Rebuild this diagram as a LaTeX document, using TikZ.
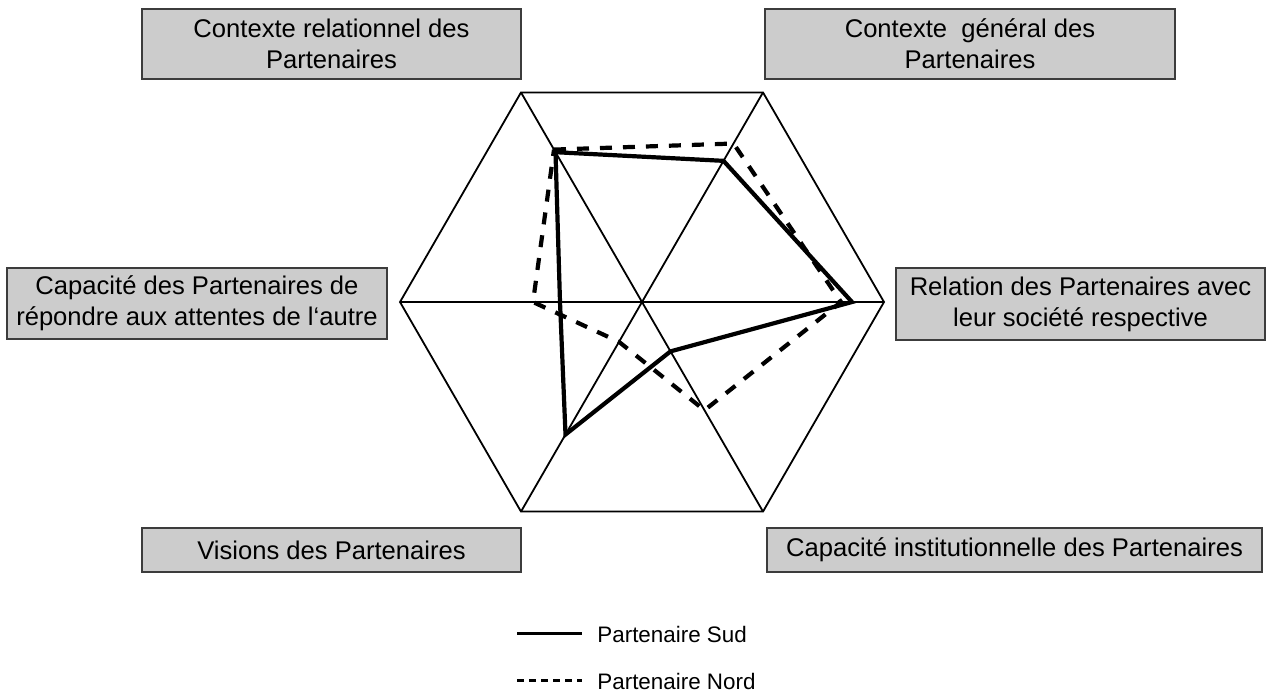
\documentclass[tikz,border=0pt]{standalone}
\usepackage{fontspec}
\setmainfont{Liberation Sans}
\definecolor{boxfill}{RGB}{204,204,204}
\definecolor{boxedge}{RGB}{60,60,60}
\begin{document}
\begin{tikzpicture}[x=0.5pt,y=-0.5pt,
  labelbox/.style={draw=boxedge, line width=0.7pt, fill=boxfill, inner sep=0pt,
    align=center, font=\fontsize{12.8}{15.6}\selectfont},
  gridline/.style={line width=0.9pt},
  sud/.style={line width=2.1pt, miter limit=4},
  nord/.style={line width=2.1pt, dash pattern=on 6pt off 5.5pt},
  legendtext/.style={font=\fontsize{11.2}{13}\selectfont, anchor=west, inner sep=0pt}]
  \useasboundingbox (0,0) rectangle (1273,693);

  % category boxes
  \node[labelbox, minimum width=379pt/2, minimum height=70pt/2] (ctxrel) at (331.5,44)
    {Contexte relationnel des\\Partenaires};
  \node[labelbox, minimum width=410pt/2, minimum height=70pt/2] (ctxgen) at (970,44)
    {Contexte\ \ général des\\Partenaires};
  \node[labelbox, minimum width=380pt/2, minimum height=71pt/2] (capatt) at (197,303.5)
    {Capacité des Partenaires de\\répondre aux attentes de l‘autre};
  \node[labelbox, minimum width=369pt/2, minimum height=72pt/2] (relsoc) at (1080.5,304)
    {Relation des Partenaires avec\\leur société respective};
  \node[labelbox, minimum width=379pt/2, minimum height=44pt/2] (vision) at (331.5,550)
    {Visions des Partenaires};
  \node[labelbox, minimum width=495pt/2, minimum height=44pt/2] (capinst) at (1014.5,550)
    {Capacité institutionnelle des Partenaires};

  % radar frame and values (math angles, centre of the hexagon as origin)
  \begin{scope}[shift={(642,302)}, y=0.5pt]
    \coordinate (O) at (0,0);
    \foreach \a/\n in {0/R,60/UR,120/UL,180/L,240/LL,300/LR}
      \coordinate (h\n) at (\a:242);
    \foreach \a/\n/\r in {120/UL/173,60/UR/163,0/R/210,300/LR/57,240/LL/153,180/L/82}
      \coordinate (s\n) at (\a:\r);
    \foreach \a/\n/\r in {120/UL/176,60/UR/183,0/R/199,300/LR/125,240/LL/46,180/L/109}
      \coordinate (n\n) at (\a:\r);
  \end{scope}

  \draw[gridline] (hR) -- (hUR) -- (hUL) -- (hL) -- (hLL) -- (hLR) -- cycle;
  \draw[gridline] (hL) -- (hR);
  \draw[gridline] (hUL) -- (hLR);
  \draw[gridline] (hUR) -- (hLL);

  \draw[sud] (sUL) -- (sUR) -- (sR) -- (sLR) -- (sLL) -- (sL) -- cycle;
  \draw[nord] (nUL) -- (nUR) -- (nR) -- (nLR) -- (nLL) -- (nL) -- cycle;

  % legend
  \coordinate (lsA) at (517,633);
  \coordinate (lsB) at (582,633);
  \node[legendtext] (lsud) at (597,634) {Partenaire Sud};
  \draw[line width=1.5pt] (lsA) -- (lsB);
  \coordinate (lnA) at (517,680);
  \coordinate (lnB) at (582,680);
  \node[legendtext] (lnord) at (597,681) {Partenaire Nord};
  \draw[line width=1.5pt, dash pattern=on 3.6pt off 2.4pt] (lnA) -- (lnB);
\end{tikzpicture}
\end{document}
